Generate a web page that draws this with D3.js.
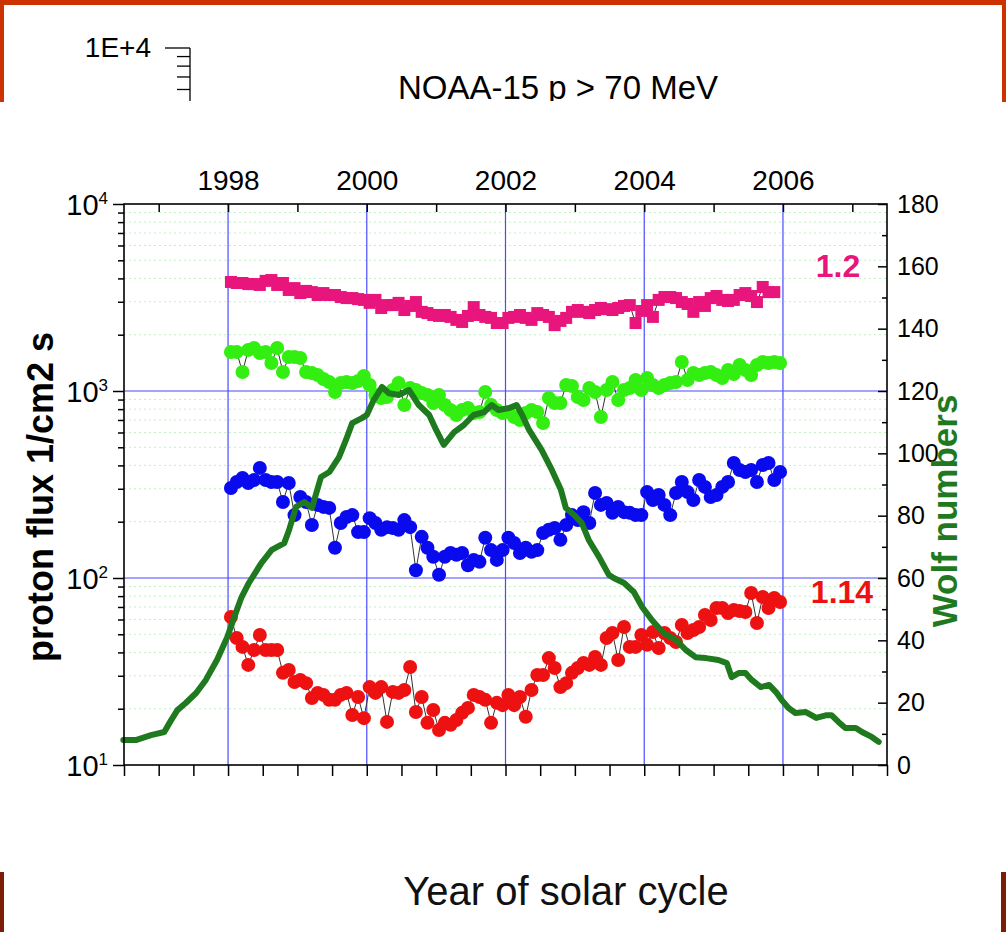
<!DOCTYPE html>
<html>
<head>
<meta charset="utf-8">
<script src="https://cdn.jsdelivr.net/npm/d3@7"></script>
<style>
  html, body { margin: 0; padding: 0; background: #fff; }
  svg { display: block; }
</style>
</head>
<body>
<svg id="chart" width="1006" height="932"></svg>
<script>
// Monthly mean proton fluxes (1/cm2 s), Jan 1998 .. Dec 2005, four energy channels
const pinkFlux = [3830,3780,3780,3730,3730,3690,3880,3920,3690,3780,
  3470,3550,3340,3430,3380,3260,3340,3260,3260,3180,
  3140,3140,3100,3070,2960,3070,2780,2880,2880,2960,
  2710,2850,2990,2650,2610,2550,2520,2550,2490,2400,
  2340,2520,2810,2550,2490,2460,2310,2310,2460,2490,
  2550,2460,2400,2610,2550,2490,2250,2370,2460,2650,
  2710,2650,2610,2710,2780,2740,2710,2780,2850,2880,
  2310,2680,2880,2490,3070,3180,3180,3140,2990,2920,
  2650,2990,2850,3140,3220,3070,3030,3070,3260,3340,
  3220,2990,3600,3380,3380];
const greenFlux = [1616,1616,1264,1657,1698,1596,1616,1411,1698,1264,
  1520,1520,1501,1264,1248,1218,1159,1117,988,1104,
  1117,1104,1131,1203,1077,952,917,929,1012,1104,
  842,1038,1012,976,952,863,952,842,791,744,
  791,811,763,772,988,842,791,763,772,726,
  700,763,791,772,674,917,863,863,1077,1064,
  929,895,1038,988,726,1012,1117,895,1012,1038,
  1145,1012,1174,1077,1038,1077,1104,1117,1429,1145,
  1248,1218,1248,1264,1218,1174,1295,1233,1377,1295,
  1218,1377,1429,1411,1429,1411];
const blueFlux = [303,326,343,322,334,388,334,326,326,255,
  322,217,271,255,192,246,240,237,145,197,
  212,217,176,176,209,197,181,187,185,181,
  204,187,110,166,145,130,104,130,136,133,
  136,117,125,122,164,141,125,141,164,154,
  136,145,138,141,174,181,185,160,192,217,
  204,225,197,285,246,252,223,240,225,223,
  217,217,288,261,278,246,217,285,326,288,
  261,334,307,271,278,307,326,412,378,369,
  378,326,402,412,334,369];
const redFlux = [61.9,47.8,42.8,34.3,41.2,49.6,41.2,41.2,41.2,31.1,
  32.2,27.8,28.5,27.4,22.8,24.3,23.7,22.3,22.3,23.7,
  24.3,18.5,23.1,17.8,26.1,24.3,26.1,17.0,24.6,24.3,
  25.2,33.4,19.2,23.1,16.8,19.7,15.4,16.8,16.4,17.4,
  19.0,20.2,23.7,23.1,22.3,16.8,21.5,20.9,23.7,20.9,
  23.1,18.1,25.2,30.3,30.3,37.3,33.0,26.1,27.4,31.1,
  33.0,35.1,34.3,37.8,34.3,47.8,50.8,36.4,54.7,42.8,
  42.8,49.6,43.9,51.4,42.2,50.8,47.8,45.5,56.1,50.8,
  52.7,54.7,63.5,59.6,69.1,69.1,65.0,67.4,66.6,65.8,
  83.2,57.5,79.1,69.1,78.2,74.4];

// Smoothed sunspot (Wolf) numbers
const wolfYears = [1996.49,1996.67,1996.89,1997.08,1997.18,1997.27,1997.39,1997.54,1997.68,1997.84,
  1997.99,1998.09,1998.19,1998.30,1998.48,1998.63,1998.81,1998.88,1998.98,1999.10,
  1999.21,1999.34,1999.46,1999.60,1999.70,1999.79,1999.93,2000.00,2000.10,2000.22,
  2000.32,2000.46,2000.61,2000.75,2000.90,2001.00,2001.11,2001.26,2001.40,2001.54,
  2001.69,2001.80,2001.90,2002.05,2002.16,2002.24,2002.34,2002.52,2002.67,2002.80,
  2002.87,2002.99,2003.10,2003.20,2003.35,2003.49,2003.56,2003.71,2003.85,2003.97,
  2004.11,2004.28,2004.46,2004.60,2004.74,2004.89,2005.07,2005.19,2005.26,2005.36,
  2005.46,2005.55,2005.68,2005.80,2005.90,2005.98,2006.08,2006.18,2006.33,2006.41,
  2006.48,2006.63,2006.70,2006.80,2006.90,2007.05,2007.14,2007.28,2007.38];
const wolfNumbers = [8.0,8.0,9.6,10.6,14.4,17.6,19.9,23.1,27.3,33.7,
  41.1,47.5,53.6,58.4,64.8,69.0,71.2,75.4,82.8,84.4,
  82.5,92.4,94.0,98.8,104.3,109.7,111.3,112.3,117.1,121.3,
  119.3,118.7,120.3,115.5,112.3,107.5,102.7,106.8,109.1,112.3,
  113.2,115.5,113.9,114.5,115.5,112.3,107.5,101.1,94.6,88.2,
  82.5,80.2,77.6,72.2,66.7,61.0,60.0,58.4,55.5,50.7,
  46.5,42.3,40.1,36.9,34.6,34.3,33.7,32.7,28.2,29.5,
  29.5,27.3,25.0,25.7,23.4,20.9,18.3,16.7,17.0,16.0,
  15.1,16.0,16.0,13.8,11.9,11.9,10.6,9.0,7.4];

// Tick values and labels
const yearLabels = [1998, 2000, 2002, 2004, 2006];
const yearTicks = [1997, 1998, 1999, 2000, 2001, 2002, 2003, 2004, 2005, 2006, 2007];
const halfYearTicks = [1996.5,1997,1997.5,1998,1998.5,1999,1999.5,2000,2000.5,2001,2001.5,
  2002,2002.5,2003,2003.5,2004,2004.5,2005,2005.5,2006,2006.5,2007,2007.5];
const fluxDecades = [10, 100, 1000, 10000];
const wolfMajor = [0,20,40,60,80,100,120,140,160,180];
const wolfMinor = [10,30,50,70,90,110,130,150,170];
const firstYear = 1998;

const FONT = "'Liberation Sans', Arial, Helvetica, sans-serif";
const svg = d3.select("#chart");
const W = 1006, H = 932;

svg.append("rect").attr("width", W).attr("height", H).attr("fill", "#fff");

// ---- slide header strip ----
const frameTop = "#cc3300";
svg.append("rect").attr("x", 0).attr("y", 0).attr("width", W).attr("height", 5).attr("fill", frameTop);
svg.append("rect").attr("x", 0).attr("y", 0).attr("width", 4).attr("height", 102).attr("fill", frameTop);
svg.append("rect").attr("x", W - 4).attr("y", 0).attr("width", 4).attr("height", 102).attr("fill", frameTop);

svg.append("clipPath").attr("id", "headClip")
  .append("rect").attr("x", 4).attr("y", 5).attr("width", W - 8).attr("height", 96);
const head = svg.append("g").attr("clip-path", "url(#headClip)");

// truncated axis of an underlying plot
const headScale = d3.scaleLog().domain([1000, 10000]).range([48 + 187, 48]);
const headMinor = [9000, 8000, 7000, 6000, 5000];
head.append("line").attr("x1", 190).attr("x2", 190).attr("y1", headScale(10000)).attr("y2", 110)
  .attr("stroke", "#000").attr("stroke-width", 1.3);
head.append("line").attr("x1", 165).attr("x2", 190).attr("y1", headScale(10000)).attr("y2", headScale(10000))
  .attr("stroke", "#000").attr("stroke-width", 1.3);
head.selectAll("line.hm").data(headMinor).enter().append("line")
  .attr("x1", 177).attr("x2", 190)
  .attr("y1", d => headScale(d)).attr("y2", d => headScale(d))
  .attr("stroke", "#000").attr("stroke-width", 1.3);
head.append("text").attr("x", 151).attr("y", headScale(10000) + 9)
  .attr("text-anchor", "end").attr("font-family", FONT).attr("font-size", 28)
  .text("1E+4");
head.append("text").attr("x", 558).attr("y", 99)
  .attr("text-anchor", "middle").attr("font-family", FONT).attr("font-size", 33)
  .text("NOAA-15 p > 70 MeV");

// ---- plot frame ----
const m = { left: 124, right: 887, top: 204, bottom: 765 };
const x = d3.scaleLinear().domain([1996.5, 2007.5]).range([m.left, m.right]);
const yFlux = d3.scaleLog().domain([10, 10000]).range([m.bottom, m.top]);
const yWolf = d3.scaleLinear().domain([0, 180]).range([m.bottom, m.top]);

const plot = svg.append("g");

// minor log grid (faint dotted green)
const minorFlux = [];
[10, 100, 1000].forEach(dec => { for (let k = 2; k <= 9; k++) minorFlux.push(dec * k); });
plot.selectAll("line.minorGrid").data(minorFlux).enter().append("line")
  .attr("x1", m.left).attr("x2", m.right)
  .attr("y1", d => yFlux(d)).attr("y2", d => yFlux(d))
  .attr("stroke", "#c2f0c2").attr("stroke-width", 1).attr("stroke-dasharray", "2,3");

// major grid (blue)
plot.selectAll("line.hGrid").data([100, 1000]).enter().append("line")
  .attr("x1", m.left).attr("x2", m.right)
  .attr("y1", d => yFlux(d)).attr("y2", d => yFlux(d))
  .attr("stroke", "#4a4aff").attr("stroke-width", 1.2);
plot.selectAll("line.vGrid").data(yearLabels).enter().append("line")
  .attr("x1", d => x(d)).attr("x2", d => x(d))
  .attr("y1", m.top).attr("y2", m.bottom)
  .attr("stroke", "#4a4aff").attr("stroke-width", 1.2);

// ---- axes ----
function styleAxis(g) {
  g.select(".domain").remove();
  g.selectAll(".tick line").attr("stroke", "#000").attr("stroke-width", 1.5);
  g.selectAll(".tick text").attr("fill", "#000").attr("font-family", FONT);
}

// bottom: half-year ticks, no labels
svg.append("g").attr("transform", `translate(0,${m.bottom})`)
  .call(d3.axisBottom(x).tickValues(halfYearTicks).tickSize(11).tickFormat(""))
  .call(styleAxis);

// top: inward yearly ticks
svg.append("g").attr("transform", `translate(0,${m.top})`)
  .call(d3.axisTop(x).tickValues(yearTicks).tickSize(-8).tickFormat(""))
  .call(styleAxis);
// top: year labels
svg.append("g").attr("transform", `translate(0,${m.top})`)
  .call(d3.axisTop(x).tickValues(yearLabels).tickSize(0).tickPadding(14).tickFormat(d3.format("d")))
  .call(styleAxis)
  .call(g => g.selectAll(".tick text").attr("font-size", 28));

// left: log axis
svg.append("g").attr("transform", `translate(${m.left},0)`)
  .call(d3.axisLeft(yFlux).tickValues(minorFlux).tickSize(6).tickFormat(""))
  .call(styleAxis);
svg.append("g").attr("transform", `translate(${m.left},0)`)
  .call(d3.axisLeft(yFlux).tickValues(fluxDecades).tickSize(11).tickPadding(5).tickFormat(() => ""))
  .call(styleAxis)
  .call(g => g.selectAll(".tick text").each(function (d) {
    const t = d3.select(this).attr("font-size", 29).attr("dy", "0.36em");
    t.text("10");
    t.append("tspan").attr("dy", "-0.62em").attr("font-size", 17).text(Math.round(Math.log10(d)));
  }));

// right: Wolf number axis, inward ticks
svg.append("g").attr("transform", `translate(${m.right},0)`)
  .call(d3.axisRight(yWolf).tickValues(wolfMinor).tickSize(-5).tickFormat(""))
  .call(styleAxis);
svg.append("g").attr("transform", `translate(${m.right},0)`)
  .call(d3.axisRight(yWolf).tickValues(wolfMajor).tickSize(-9).tickPadding(10).tickFormat(d3.format("d")))
  .call(styleAxis)
  .call(g => g.selectAll(".tick text").attr("font-size", 25));

// frame lines
svg.append("rect").attr("x", m.left).attr("y", m.top)
  .attr("width", m.right - m.left).attr("height", m.bottom - m.top)
  .attr("fill", "none").attr("stroke", "#000").attr("stroke-width", 1.6);

// ---- data series ----
const monthTime = i => firstYear + (i + 0.5) / 12;

function drawSeries(values, color, shape) {
  const pts = values.map((v, i) => [x(monthTime(i)), yFlux(v)]);
  plot.append("path").attr("d", d3.line()(pts))
    .attr("fill", "none").attr("stroke", "#333").attr("stroke-width", 1);
  if (shape === "square") {
    const s = 12;
    plot.append("g").selectAll("rect").data(pts).enter().append("rect")
      .attr("x", d => d[0] - s / 2).attr("y", d => d[1] - s / 2)
      .attr("width", s).attr("height", s).attr("fill", color);
  } else {
    plot.append("g").selectAll("circle").data(pts).enter().append("circle")
      .attr("cx", d => d[0]).attr("cy", d => d[1]).attr("r", 7).attr("fill", color);
  }
}
drawSeries(pinkFlux, "#e8157c", "square");
drawSeries(greenFlux, "#33ee11", "circle");
drawSeries(blueFlux, "#0a0aee", "circle");
drawSeries(redFlux, "#ee1111", "circle");

// Wolf number curve on top
plot.append("path")
  .attr("d", d3.line().x((d, i) => x(wolfYears[i])).y(d => yWolf(d))(wolfNumbers))
  .attr("fill", "none").attr("stroke", "#1f7a1f").attr("stroke-width", 6)
  .attr("stroke-linejoin", "round").attr("stroke-linecap", "round");

// ratio labels
svg.append("text").attr("x", 838).attr("y", 277).attr("text-anchor", "middle")
  .attr("font-family", FONT).attr("font-weight", "bold").attr("font-size", 32)
  .attr("fill", "#e8157c").text("1.2");
svg.append("text").attr("x", 842).attr("y", 603).attr("text-anchor", "middle")
  .attr("font-family", FONT).attr("font-weight", "bold").attr("font-size", 32)
  .attr("fill", "#ee1111").text("1.14");

// axis titles
svg.append("text").attr("transform", "translate(53,497) rotate(-90)")
  .attr("text-anchor", "middle").attr("font-family", FONT).attr("font-weight", "bold")
  .attr("font-size", 36).attr("fill", "#000").text("proton flux 1/cm2 s");
svg.append("text").attr("transform", "translate(957,511) rotate(-90)")
  .attr("text-anchor", "middle").attr("font-family", FONT).attr("font-weight", "bold")
  .attr("font-size", 35).attr("fill", "#1f7a1f").text("Wolf numbers");

// ---- footer strip ----
const frameBottom = "#7d1d08";
svg.append("rect").attr("x", 0).attr("y", 872).attr("width", 4).attr("height", H - 872).attr("fill", frameBottom);
svg.append("rect").attr("x", W - 5).attr("y", 872).attr("width", 5).attr("height", H - 872).attr("fill", frameBottom);
svg.append("text").attr("x", 566).attr("y", 905).attr("text-anchor", "middle")
  .attr("font-family", FONT).attr("font-size", 40).attr("fill", "#111")
  .text("Year of solar cycle");
</script>
</body>
</html>
